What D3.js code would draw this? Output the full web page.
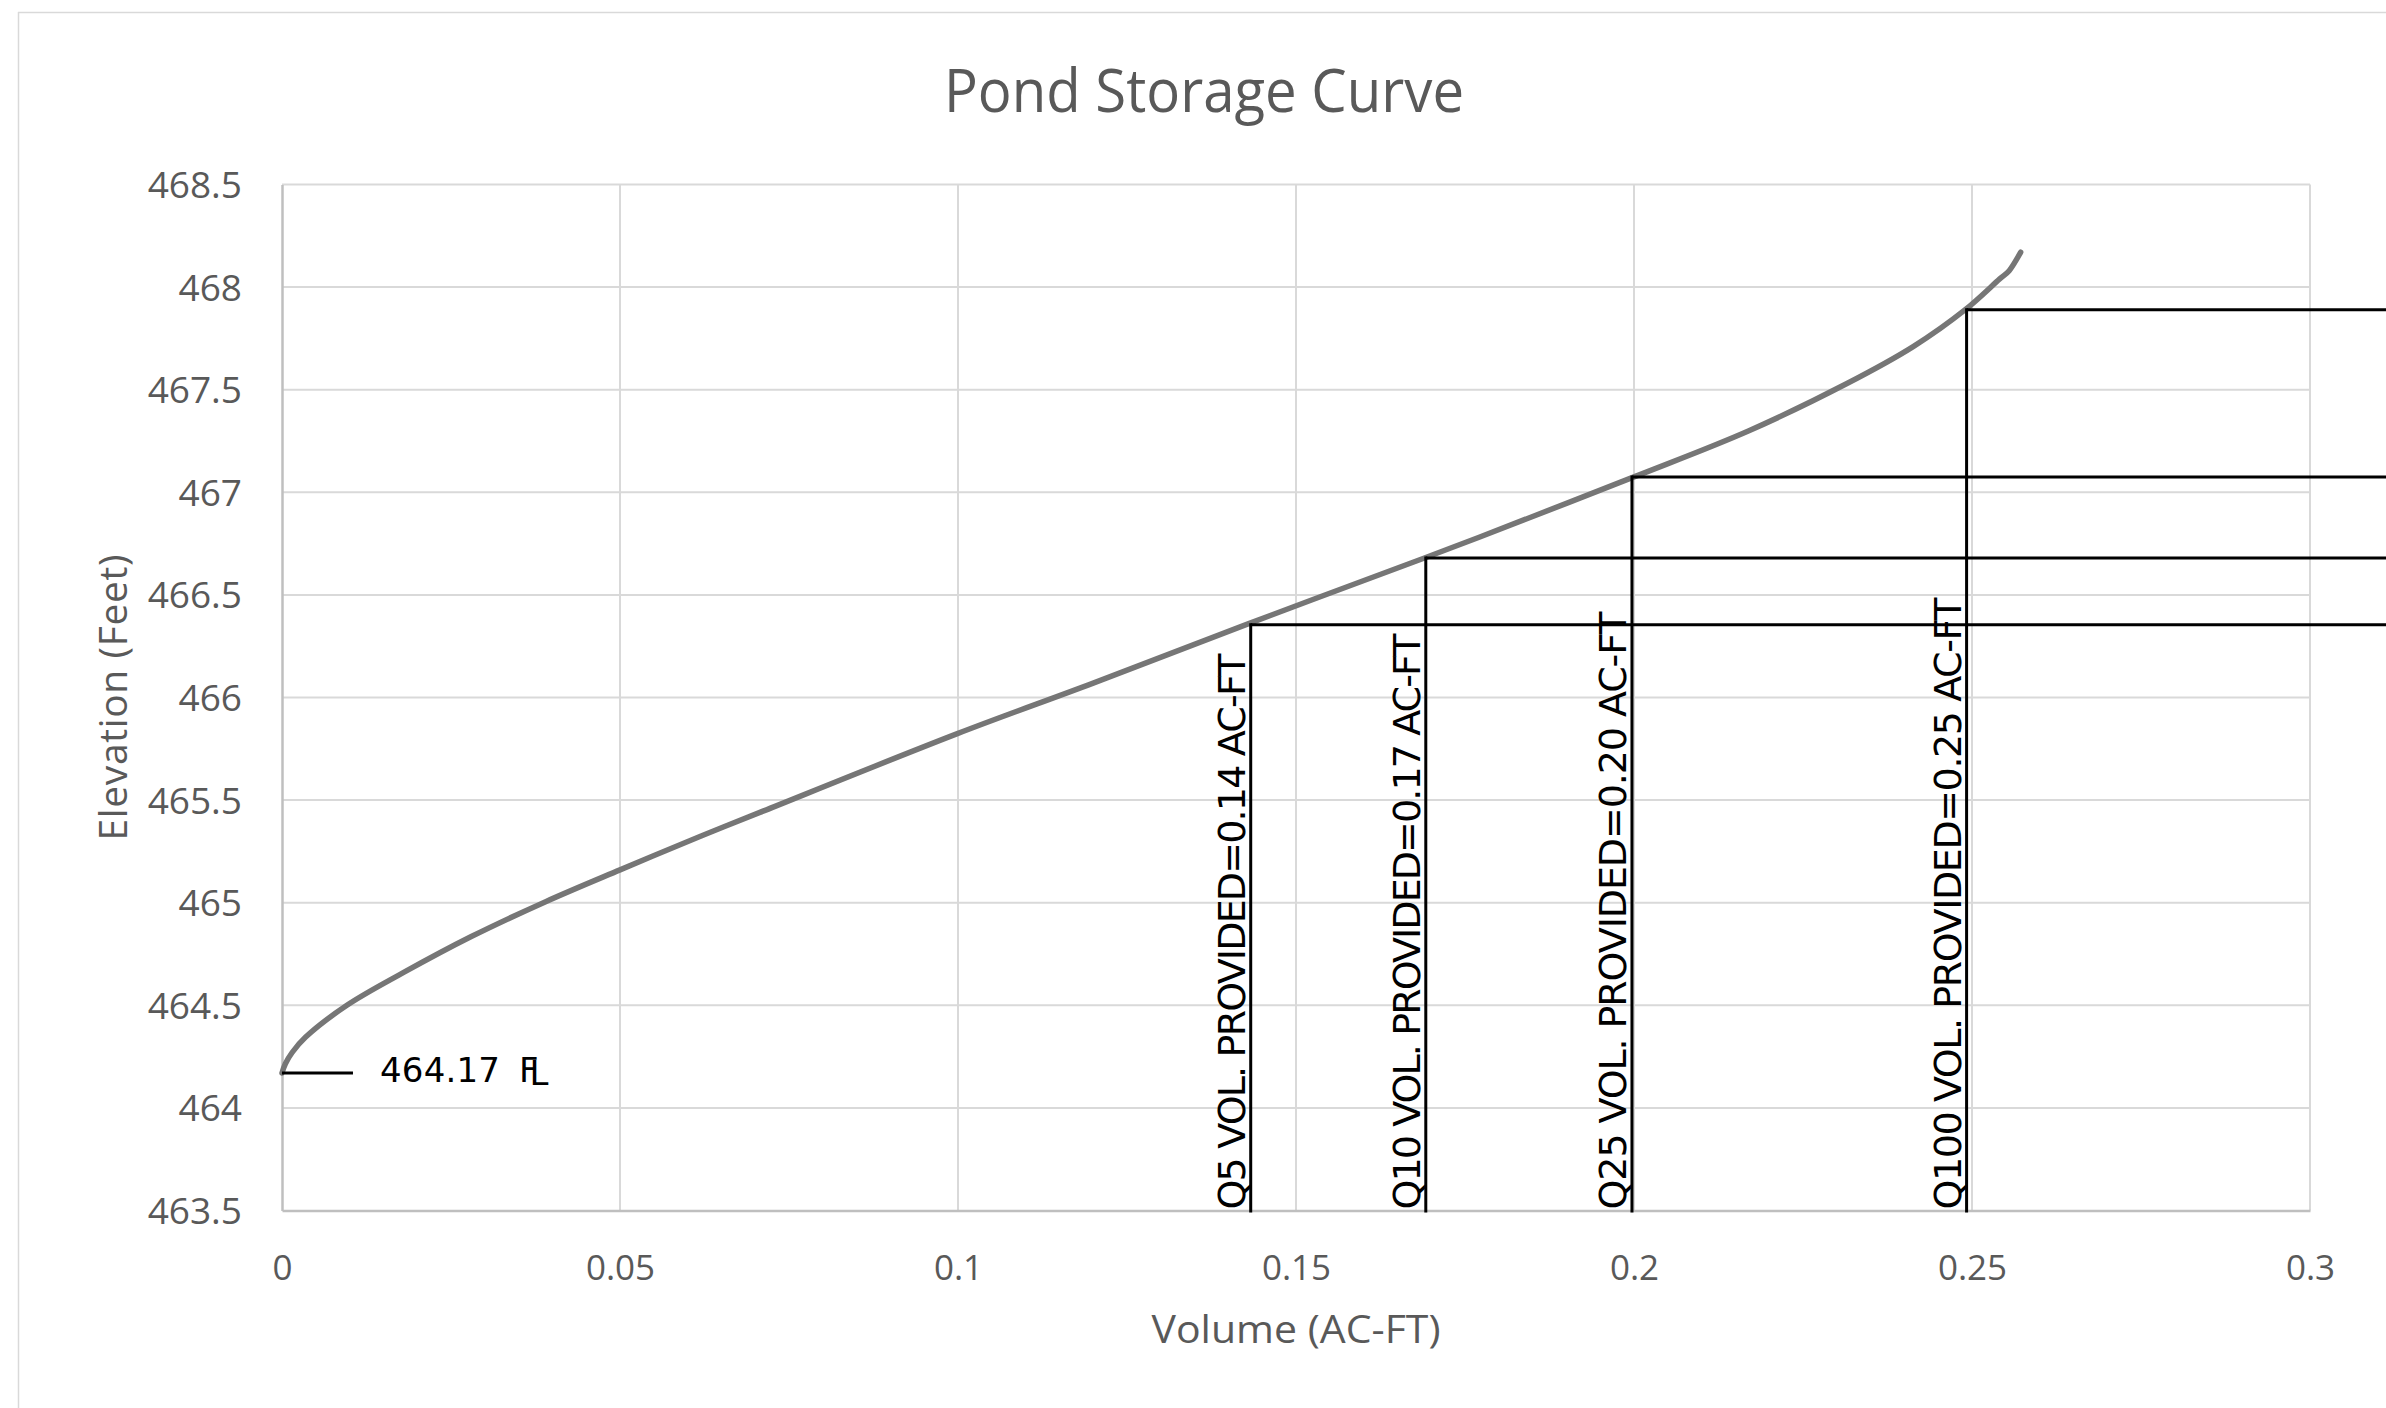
<!DOCTYPE html>
<html>
<head>
<meta charset="utf-8">
<script src="https://cdn.jsdelivr.net/npm/d3@7"></script>
<style>
  html, body { margin: 0; padding: 0; background: #fff; }
  svg { display: block; }
</style>
</head>
<body>
<svg id="chart" width="2386" height="1408"></svg>
<script>
// ---- data ----
const titleText = "Pond Storage Curve";
const xTitle = "Volume (AC-FT)";
const yTitle = "Elevation (Feet)";

const xTicks = [0, 0.05, 0.1, 0.15, 0.2, 0.25, 0.3];
const xTickLabels = ["0", "0.05", "0.1", "0.15", "0.2", "0.25", "0.3"];
const yTicks = [463.5, 464, 464.5, 465, 465.5, 466, 466.5, 467, 467.5, 468, 468.5];
const yTickLabels = ["463.5", "464", "464.5", "465", "465.5", "466", "466.5", "467", "467.5", "468", "468.5"];

const volume =    [0, 0.0005, 0.0015, 0.0035, 0.0096, 0.018, 0.028, 0.039, 0.050, 0.062, 0.0707, 0.100, 0.120, 0.143, 0.169, 0.177, 0.200, 0.217, 0.2315, 0.2413, 0.249, 0.2541, 0.2555, 0.2572];
const elevation = [464.17, 464.215, 464.27, 464.345, 464.50, 464.66, 464.835, 465.005, 465.16, 465.325, 465.44, 465.825, 466.07, 466.36, 466.68, 466.78, 467.075, 467.30, 467.53, 467.71, 467.89, 468.04, 468.08, 468.17];

const stormNames = ["Q5", "Q10", "Q25", "Q100"];
const stormVolume = [0.1433, 0.1692, 0.1997, 0.2492];
const stormElevation = [466.355, 466.68, 467.075, 467.89];
const stormLabels = ["Q5 VOL. PROVIDED=0.14 AC-FT", "Q10 VOL. PROVIDED=0.17 AC-FT", "Q25 VOL. PROVIDED=0.20 AC-FT", "Q100 VOL. PROVIDED=0.25 AC-FT"];

const flowlineElev = 464.17;
const flowlineText = "464.17";
const flowlineLineEnd = 0.0105;

// ---- layout ----
const W = 2386, H = 1408;
const svg = d3.select("#chart");
const x = d3.scaleLinear().domain([0, 0.3]).range([282, 2310]);
const y = d3.scaleLinear().domain([463.5, 468.5]).range([1210.5, 184.5]);

const labelColor = "#595959";
const gridColor = "#d9d9d9";

// chart border (top / left)
svg.append("line").attr("x1", 18).attr("x2", W).attr("y1", 12.5).attr("y2", 12.5)
  .attr("stroke", gridColor).attr("stroke-width", 1.5);
svg.append("line").attr("x1", 18.5).attr("x2", 18.5).attr("y1", 12).attr("y2", H)
  .attr("stroke", gridColor).attr("stroke-width", 1.5);

// gridlines
const grid = svg.append("g");
grid.selectAll("line.h").data(yTicks.slice(1)).join("line")
  .attr("x1", x(0)).attr("x2", x(0.3))
  .attr("y1", d => y(d)).attr("y2", d => y(d))
  .attr("stroke", gridColor).attr("stroke-width", 2);
grid.selectAll("line.v").data(xTicks.slice(1)).join("line")
  .attr("x1", d => x(d)).attr("x2", d => x(d))
  .attr("y1", y(468.5)).attr("y2", y(463.5))
  .attr("stroke", gridColor).attr("stroke-width", 2);

// axes
const xAxis = svg.append("g").attr("transform", `translate(0,${y(463.5)})`)
  .call(d3.axisBottom(x).tickValues(xTicks).tickSize(0).tickPadding(0).tickFormat((d, i) => xTickLabels[i]));
xAxis.select(".domain").attr("stroke", "#bfbfbf").attr("stroke-width", 2.5);
xAxis.selectAll("text").attr("font-family", "'Open Sans', sans-serif").attr("font-size", 35)
  .attr("fill", labelColor).attr("dy", null).attr("y", 69);

const yAxis = svg.append("g").attr("transform", `translate(${x(0)},0)`)
  .call(d3.axisLeft(y).tickValues(yTicks).tickSize(0).tickPadding(0).tickFormat((d, i) => yTickLabels[i]));
yAxis.select(".domain").attr("stroke", "#bfbfbf").attr("stroke-width", 2.5);
yAxis.selectAll("text").attr("font-family", "'Open Sans', sans-serif").attr("font-size", 37)
  .attr("fill", labelColor).attr("dy", null).attr("x", -40).attr("y", 13);

// title
svg.append("text").attr("x", 1204).attr("y", 112).attr("text-anchor", "middle")
  .attr("font-family", "'Open Sans', sans-serif").attr("font-size", 60).attr("fill", labelColor)
  .attr("textLength", 520).attr("lengthAdjust", "spacingAndGlyphs").text(titleText);

// axis titles
svg.append("text").attr("x", (x(0) + x(0.3)) / 2).attr("y", 1343).attr("text-anchor", "middle")
  .attr("font-family", "'Open Sans', sans-serif").attr("font-size", 39).attr("fill", labelColor)
  .attr("textLength", 289).attr("lengthAdjust", "spacingAndGlyphs").text(xTitle);
svg.append("text").attr("transform", `translate(127,${(y(463.5) + y(468.5)) / 2}) rotate(-90)`)
  .attr("text-anchor", "middle")
  .attr("font-family", "'Open Sans', sans-serif").attr("font-size", 39).attr("fill", labelColor)
  .attr("textLength", 286).attr("lengthAdjust", "spacing").text(yTitle);

// curve
const pts = volume.map((v, i) => [v, elevation[i]]);
svg.append("path").datum(pts)
  .attr("d", d3.line().x(d => x(d[0])).y(d => y(d[1])).curve(d3.curveCatmullRom.alpha(0.5)))
  .attr("fill", "none").attr("stroke", "#767676").attr("stroke-width", 5.5)
  .attr("stroke-linecap", "round").attr("stroke-linejoin", "round");

// storm annotations
const ann = svg.append("g");
const cadFont = "'DejaVu Sans', sans-serif";
const labelLens = [556, 576, 598, 612];
stormNames.forEach((n, i) => {
  const xv = x(stormVolume[i]), yv = y(stormElevation[i]);
  ann.append("line").attr("x1", xv).attr("x2", W).attr("y1", yv).attr("y2", yv)
    .attr("stroke", "#000").attr("stroke-width", 3);
  ann.append("line").attr("x1", xv).attr("x2", xv).attr("y1", yv - 1.5).attr("y2", y(463.5) + 2)
    .attr("stroke", "#000").attr("stroke-width", 3);
  ann.append("text")
    .attr("transform", `translate(${xv - 6},${y(463.5) - 1}) rotate(-90)`)
    .attr("font-family", cadFont).attr("font-size", 38).attr("fill", "#000")
    .attr("textLength", labelLens[i]).attr("lengthAdjust", "spacing")
    .text(stormLabels[i]);
});

// flowline annotation
const fy = y(flowlineElev);
ann.append("line").attr("x1", x(0)).attr("x2", x(flowlineLineEnd)).attr("y1", fy).attr("y2", fy)
  .attr("stroke", "#000").attr("stroke-width", 3);
const fl = ann.append("text").attr("x", 380).attr("y", fy + 9)
  .attr("font-family", cadFont).attr("font-size", 34).attr("fill", "#000");
fl.append("tspan").attr("textLength", 120).attr("lengthAdjust", "spacing").text(flowlineText);
fl.append("tspan").attr("x", 519).text("F");
fl.append("tspan").attr("dx", -9).attr("dy", 3).text("L");
</script>
</body>
</html>
